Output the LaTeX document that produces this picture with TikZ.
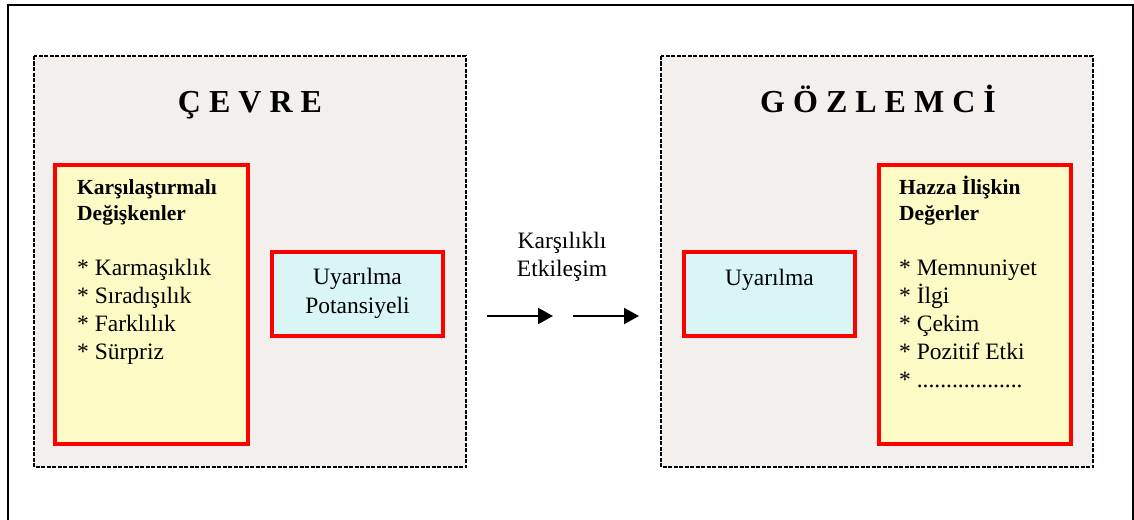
\documentclass[tikz,border=0pt]{standalone}
\usepackage{fontspec}
\setmainfont{Liberation Serif}
\usetikzlibrary{arrows.meta}
\definecolor{panelbg}{HTML}{F2EFEC}
\definecolor{yel}{HTML}{FCFBC6}
\definecolor{cya}{HTML}{D9F5F5}
\begin{document}
\begin{tikzpicture}[x=1pt,y=-1pt,
  panel/.style={draw=black, line width=2pt, dash pattern=on 4pt off 1.5pt, fill=panelbg},
  redbox/.style={draw=red, line width=4pt},
  body/.style={font=\fontsize{23.5}{28}\selectfont, inner sep=0pt, anchor=base west},
  bodyc/.style={font=\fontsize{23.5}{28}\selectfont, inner sep=0pt, anchor=base},
  head/.style={font=\fontsize{21.5}{26}\selectfont\bfseries, inner sep=0pt, anchor=base west},
  ttl/.style={font=\fontsize{32}{36}\selectfont\bfseries, inner sep=0pt, anchor=base},
  arr/.style={line width=2pt, -{Triangle[length=15pt,width=16pt]}}]
\useasboundingbox (0,0) rectangle (1134,519);
% outer frame
\draw[line width=2pt] (8,530) -- (8,5) -- (1133,5) -- (1133,530);
% panels
\draw[panel] (34,56) rectangle (466,467);
\draw[panel] (661,56) rectangle (1093,467);
% boxes
\draw[redbox, fill=yel] (55,165) rectangle (248,444);
\draw[redbox, fill=cya] (272,252) rectangle (443,336);
\draw[redbox, fill=cya] (684,252) rectangle (855,336);
\draw[redbox, fill=yel] (879,165) rectangle (1071,444);
% titles
\node[ttl] (cevre) at (250,112) {Ç E V R E};
\node[ttl] (gozlemci) at (878,112) {G Ö Z L E M C İ};
% left list
\node[head] (lh1) at (77,194) {Karşılaştırmalı};
\node[head] (lh2) at (77,220) {Değişkenler};
\node[body] (l1) at (77,275) {* Karmaşıklık};
\node[body] (l2) at (77,303) {* Sıradışılık};
\node[body] (l3) at (77,331) {* Farklılık};
\node[body] (l4) at (77,359) {* Sürpriz};
% potential
\node[bodyc] (up1) at (357.5,284) {Uyarılma};
\node[bodyc] (up2) at (357.5,313) {Potansiyeli};
% middle
\node[bodyc] (k1) at (562,248) {Karşılıklı};
\node[bodyc] (k2) at (562,276) {Etkileşim};
\coordinate (a1s) at (487,316);
\coordinate (a1e) at (553,316);
\coordinate (a2s) at (573,316);
\coordinate (a2e) at (639,316);
\draw[arr] (a1s) -- (a1e);
\draw[arr] (a2s) -- (a2e);
% right
\node[bodyc] (u) at (769.5,285) {Uyarılma};
\node[head] (rh1) at (899,194) {Hazza İlişkin};
\node[head] (rh2) at (899,220) {Değerler};
\node[body] (r1) at (899,275) {* Memnuniyet};
\node[body] (r2) at (899,303) {* İlgi};
\node[body] (r3) at (899,331) {* Çekim};
\node[body] (r4) at (899,359) {* Pozitif Etki};
\node[body] (r5) at (899,387) {* ..................};
\end{tikzpicture}
\end{document}
